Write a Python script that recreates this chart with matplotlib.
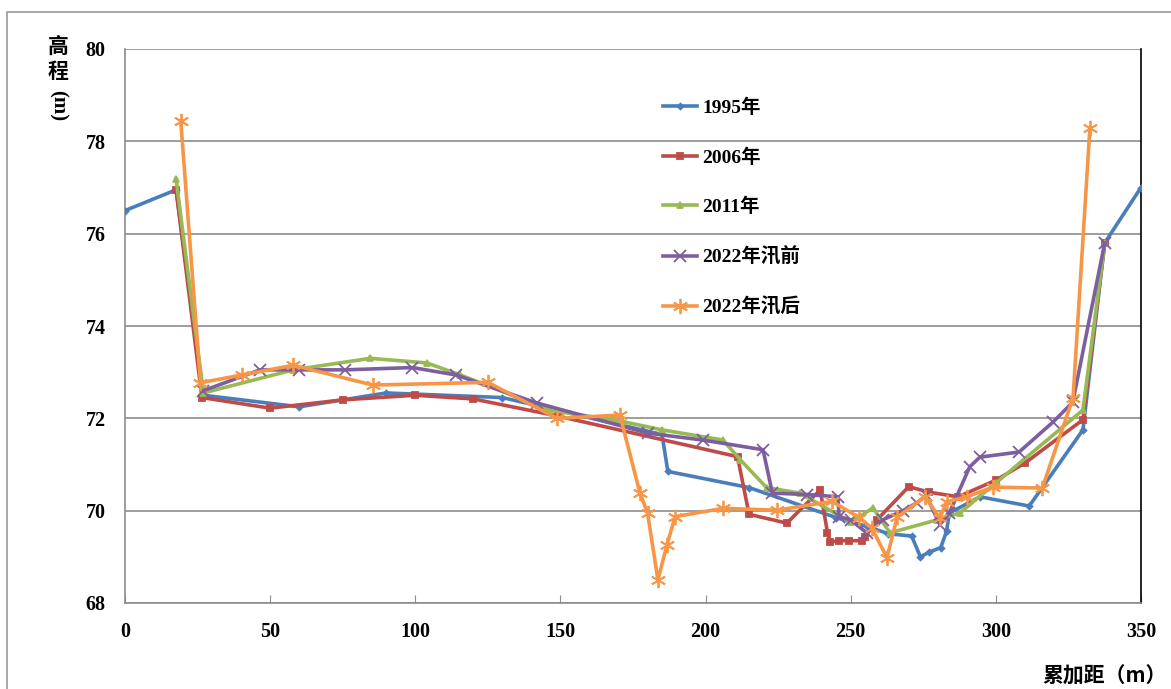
import matplotlib
matplotlib.use("Agg")
import matplotlib.pyplot as plt
from matplotlib.patches import Rectangle

# ---- data ----
x_1995 = [0, 17.6, 27, 60, 90, 130, 185, 187, 215, 245, 256, 263, 271, 274, 277, 281, 283, 284, 294.5, 311.5, 330, 337.5, 350]
y_1995 = [76.5, 76.95, 72.5, 72.25, 72.55, 72.45, 71.65, 70.85, 70.5, 69.85, 69.65, 69.5, 69.45, 69.0, 69.1, 69.2, 69.55, 69.95, 70.3, 70.1, 71.75, 75.8, 77.0]

x_2006 = [17.6, 26.5, 50, 75, 100, 120, 149, 211, 215, 228, 239.5, 242, 243, 246, 249.5, 254, 255, 259, 270, 277, 287, 300, 310, 330, 337.5]
y_2006 = [76.95, 72.45, 72.22, 72.4, 72.5, 72.42, 72.05, 71.17, 69.92, 69.73, 70.45, 69.52, 69.32, 69.35, 69.35, 69.35, 69.43, 69.8, 70.52, 70.4, 70.3, 70.66, 71.03, 71.97, 75.8]

x_2011 = [17.6, 27, 58, 84.5, 104, 115.5, 146, 171.5, 185, 206, 212, 221, 232.5, 250, 257.7, 263.5, 279.7, 287.6, 300, 330, 337.5]
y_2011 = [77.18, 72.55, 73.05, 73.3, 73.2, 72.94, 72.18, 71.93, 71.75, 71.53, 71.1, 70.5, 70.38, 69.75, 70.06, 69.52, 69.8, 69.95, 70.6, 72.18, 75.8]

x_2022a = [27, 46.5, 60, 75.8, 99, 114, 142, 180, 199, 219.8, 223, 235, 245.6, 246, 250, 255.5, 261, 268, 272.8, 276, 280.7, 284, 291, 294.5, 308, 319.7, 326.5, 337.5]
y_2022a = [72.6, 73.05, 73.05, 73.05, 73.1, 72.94, 72.33, 71.68, 71.53, 71.32, 70.38, 70.35, 70.3, 69.87, 69.8, 69.52, 69.8, 70.0, 70.17, 70.33, 69.7, 69.95, 70.95, 71.16, 71.27, 71.92, 72.35, 75.8]

x_2022b = [19.2, 26, 40.3, 58, 85.4, 125, 148.8, 170.5, 177.4, 180, 183.6, 186.7, 189.5, 206, 224.6, 243.5, 253, 257.3, 262.5, 266, 275.6, 280.7, 283, 290, 299, 316, 326.6, 332.4]
y_2022b = [78.45, 72.77, 72.94, 73.15, 72.72, 72.78, 72.0, 72.07, 70.38, 69.95, 68.5, 69.26, 69.87, 70.05, 70.01, 70.2, 69.85, 69.62, 68.98, 69.86, 70.3, 69.84, 70.19, 70.3, 70.51, 70.49, 72.45, 78.29]

labels = ["1995年", "2006年", "2011年", "2022年汛前", "2022年汛后"]
x_ticks = [0, 50, 100, 150, 200, 250, 300, 350]
y_ticks = [68, 70, 72, 74, 76, 78, 80]

plt.rcParams['font.family'] = ['Liberation Serif', 'Noto Sans CJK SC', 'DejaVu Sans']

fig = plt.figure(figsize=(11.71, 6.89), dpi=100)
ax = fig.add_axes([125/1171, 1-603/689, (1141-125)/1171, (603-49)/689])

# outer frame
fig.patches.append(Rectangle((7/1171, -0.1), 1.1, 1.1-12/689, transform=fig.transFigure,
                             fill=False, edgecolor='#999999', linewidth=1.2, zorder=0))

series = [
    (x_1995, y_1995, '#4A7EBB', 'D', 3),
    (x_2006, y_2006, '#BE4B48', 's', 4.5),
    (x_2011, y_2011, '#98B954', '^', 4),
    (x_2022a, y_2022a, '#7D5FA0', 'x', 9),
    (x_2022b, y_2022b, '#F79646', (6, 2, 0), 11),
]
for (xs, ys, c, m, ms), lab in zip(series, labels):
    ax.plot(xs, ys, color=c, lw=2.6, marker=m, markersize=ms, markeredgewidth=1.3,
            markerfacecolor=c, markeredgecolor=c, label=lab, zorder=3)

ax.set_xlim(0, 350)
ax.set_ylim(68, 80)
ax.set_xticks(x_ticks)
ax.set_yticks(y_ticks)
ax.yaxis.grid(True, color='#8c8c8c', lw=1.2)
ax.set_axisbelow(True)
for s in ['left', 'bottom']:
    ax.spines[s].set_color('#8c8c8c')
    ax.spines[s].set_linewidth(1.2)
ax.spines['top'].set_visible(False)
ax.spines['right'].set_color('black')
ax.spines['right'].set_linewidth(1.2)
ax.tick_params(axis='x', direction='in', length=6, color='#8c8c8c', pad=14)
ax.tick_params(axis='y', direction='out', length=0, pad=14)
for t in ax.get_xticklabels() + ax.get_yticklabels():
    t.set_fontsize(14.5)
    t.set_fontweight('bold')

leg = ax.legend(loc='upper left', bbox_to_anchor=(528/1016, 1-40/554), frameon=False,
                prop={'family': ['Liberation Serif', 'Noto Sans CJK SC'], 'weight': 'bold', 'size': 14},
                handlelength=1.75, labelspacing=1.6, handletextpad=0.3, borderpad=0)

# y label: stacked CJK + rotated (m)
fig.text(58/1171, 1-46/689, "高", ha='center', va='center', fontsize=15,
         family=['Noto Sans CJK SC'], fontweight='bold')
fig.text(58/1171, 1-71/689, "程", ha='center', va='center', fontsize=15,
         family=['Noto Sans CJK SC'], fontweight='bold')
fig.text(58/1171, 1-106/689, "(m)", ha='center', va='center', fontsize=15,
         family=['Liberation Serif'], fontweight='bold', rotation=-90)
# x label
fig.text(1105/1171, 1-676/689, "累加距（m）", ha='center', va='center', fontsize=15,
         family=['Noto Sans CJK SC'], fontweight='bold')

fig.savefig("out.png", dpi=100)
